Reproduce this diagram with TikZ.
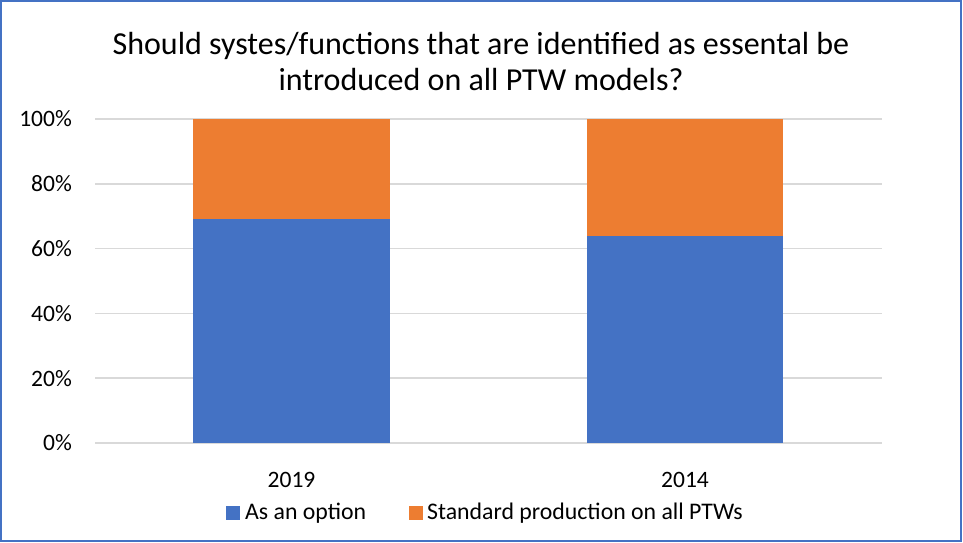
\documentclass[tikz,border=0pt]{standalone}
\usepackage{fontspec}
\setmainfont{Carlito}
\definecolor{cblue}{HTML}{4472C4}
\definecolor{corange}{HTML}{ED7D31}
\definecolor{cgrid}{HTML}{D9D9D9}
\definecolor{cframe}{HTML}{4472C4}
\begin{document}
\begin{tikzpicture}[x=1pt,y=-1pt,
  grid/.style={draw=cgrid,line width=1.5pt},
  ticklbl/.style={anchor=east,inner sep=0pt,font=\fontsize{23.5}{28}\selectfont},
  catlbl/.style={anchor=center,inner sep=0pt,font=\fontsize{23.5}{28}\selectfont},
  leglbl/.style={anchor=west,inner sep=0pt,font=\fontsize{23.8}{28}\selectfont},
  ttl/.style={anchor=center,inner sep=0pt,font=\fontsize{32}{36}\selectfont,align=center}]
\useasboundingbox (0,0) rectangle (963,542);
\fill[white] (0,0) rectangle (963,542);
% gridlines
\foreach \v/\l in {0/0\%,20/20\%,40/40\%,60/60\%,80/80\%,100/100\%}{
  \draw[grid] (95,{443-3.24*\v}) -- (882,{443-3.24*\v});
  \node[ticklbl] (t\v) at (72,{443-3.24*\v}) {\l};
}
% bars
\fill[cblue] (193,443) rectangle (390,219);
\fill[corange] (193,219) rectangle (390,119);
\fill[cblue] (587,443) rectangle (783,236);
\fill[corange] (587,236) rectangle (783,119);
% category labels
\node[catlbl] (c1) at (291.5,480) {2019};
\node[catlbl] (c2) at (685,480) {2014};
% legend
\fill[cblue] (226,506) rectangle (240,520);
\node[leglbl] (l1) at (245,513) {As an option};
\fill[corange] (408.5,506) rectangle (422.5,520);
\node[leglbl] (l2) at (427,513) {Standard production on all PTWs};
% title
\node[ttl] (title) at (481,62) {Should systes/functions that are identified as essental be\\introduced on all PTW models?};
% frame
\draw[cframe,line width=2pt] (1,1) rectangle (961,541);
\end{tikzpicture}
\end{document}
